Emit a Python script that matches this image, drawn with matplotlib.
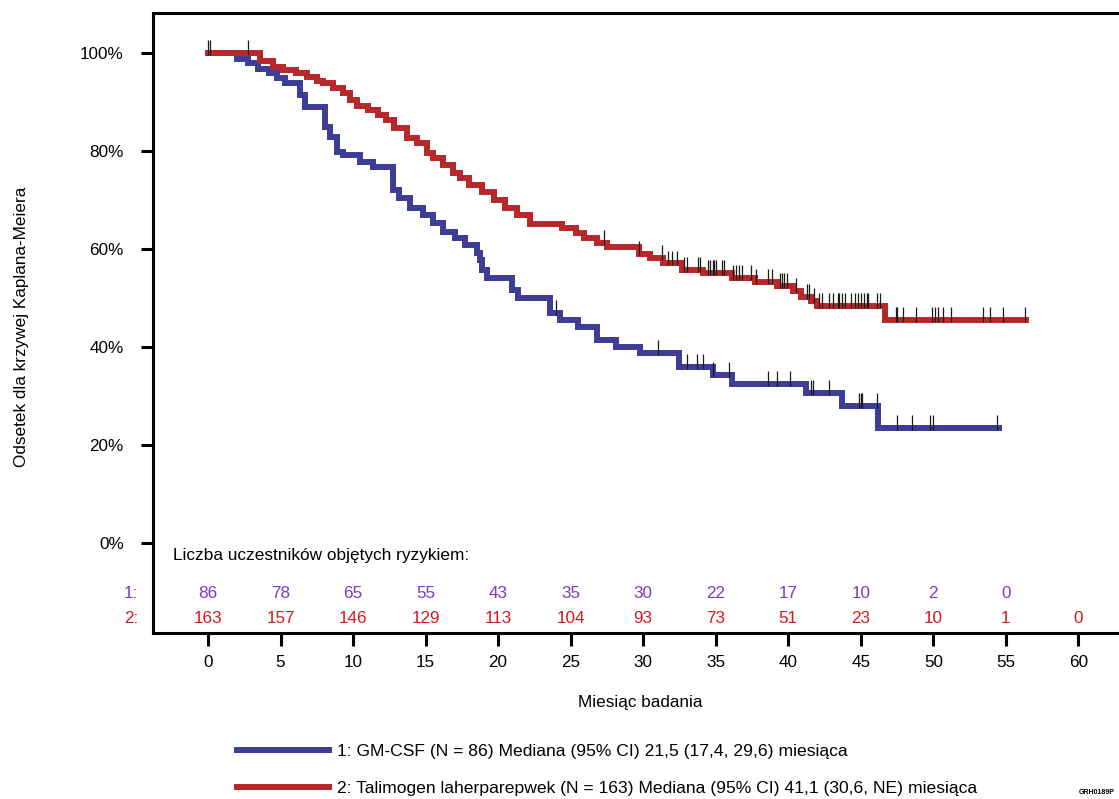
import numpy as np
import matplotlib.pyplot as plt
from matplotlib.lines import Line2D

plt.rcParams['font.family'] = ['Liberation Sans', 'DejaVu Sans']

# GM-CSF (grupa 1): czasy zdarzeń (miesiące) i przeżycie po kroku (%)
t_gm = [0, 2.0, 2.76, 3.45, 4.2, 4.76, 5.3, 6.34, 6.7, 8.07, 8.4, 8.9, 9.3, 10.5, 11.4,
        12.76, 13.2, 13.9, 14.8, 15.5, 16.2, 17.0, 17.7, 18.55, 18.76, 18.9, 19.24,
        20.97, 21.4, 23.6, 24.3, 25.5, 26.8, 28.1, 29.8, 32.5, 34.8, 36.1, 41.2, 43.7, 46.2]
s_gm = [100, 98.8, 98, 96.7, 96, 95, 94, 91.4, 89, 85, 82.8, 79.8, 79.2, 77.8, 76.7,
        72, 70.4, 68.4, 67, 65.3, 63.5, 62.2, 60.8, 59.2, 57.8, 55.7, 54,
        51.6, 50, 47, 45.5, 44, 41.4, 40, 38.8, 36, 34.3, 32.5, 30.6, 28, 23.5]
end_gm = 54.5
cens_gm = [24.0, 31.0, 33.0, 33.7, 34.1, 34.8, 35.9, 38.6, 39.2, 40.1, 41.6, 41.7, 42.8,
           44.9, 45.0, 45.1, 46.1, 47.5, 48.5, 49.8, 50.0, 54.4]

# Talimogen laherparepwek (grupa 2)
t_tl = [0, 3.6, 4.5, 5.2, 6.1, 6.8, 7.5, 7.9, 8.6, 9.3, 9.8, 10.3, 11.0, 11.7, 12.3,
        12.8, 13.7, 14.4, 15.1, 15.5, 16.2, 16.9, 17.4, 18.0, 18.9, 19.7, 20.5, 21.3,
        22.2, 24.4, 25.4, 25.9, 26.8, 27.5, 29.7, 30.5, 31.4, 32.7, 34.1, 36.1, 37.7,
        39.2, 40.3, 40.9, 41.6, 42.0, 46.7]
s_tl = [100, 98.3, 97.1, 96.5, 95.9, 95.1, 94.3, 93.9, 92.9, 91.8, 90.4, 89.2, 88.4, 87.3, 86.3,
        84.7, 82.6, 81.6, 79.6, 78.5, 77.1, 75.5, 74.5, 73.0, 71.6, 70, 68.4, 66.9,
        65.1, 64.3, 63.3, 62.2, 61.2, 60.4, 59.1, 58.2, 57.1, 55.7, 55.1, 54.1, 53.3,
        52.5, 51.4, 50.2, 49.4, 48.4, 45.5]
end_tl = 56.4
cens_tl = [0.0, 0.14, 2.76, 27.3, 29.7, 31.3, 31.7, 32.0, 32.3, 32.8, 33.0, 33.8, 33.9,
           34.5, 34.6, 34.8, 34.9, 35.0, 35.4, 35.6, 36.2, 36.4, 36.6, 36.8, 37.4, 37.8,
           38.6, 38.9, 39.4, 39.6, 39.7, 39.9, 40.5, 41.3, 41.4, 41.8, 42.1, 42.3,
           42.8, 43.1, 43.4, 43.5, 43.7, 43.9, 44.3, 44.6, 44.8, 45.0, 45.2, 45.4, 45.5,
           46.1, 46.3, 47.4, 47.5, 47.9, 48.8, 49.9, 50.1, 50.3, 50.7, 51.2, 53.4, 53.9,
           54.8, 56.3]

risk_times = [0, 5, 10, 15, 20, 25, 30, 35, 40, 45, 50, 55, 60]
risk_gm = [86, 78, 65, 55, 43, 35, 30, 22, 17, 10, 2, 0]
risk_tl = [163, 157, 146, 129, 113, 104, 93, 73, 51, 23, 10, 1, 0]

lab_gm = '1: GM-CSF (N = 86) Mediana (95% CI) 21,5 (17,4, 29,6) miesiąca'
lab_tl = '2: Talimogen laherparepwek (N = 163) Mediana (95% CI) 41,1 (30,6, NE) miesiąca'

c_gm = '#3d3d96'
c_tl = '#b8282a'
c_txt1 = '#7a3cc4'
c_txt2 = '#d7191c'

fs = 12.3

fig = plt.figure(figsize=(11.19, 7.99), dpi=100)
ax = fig.add_axes([153/1119, 166/799, 966/1119, 620/799])


def draw_km(t, s, t_end, cens, color, z):
    tt = np.append(t, t_end)
    ss = np.append(s, s[-1])
    line, = ax.step(tt, ss, where='post', color=color, lw=4.3, solid_joinstyle='miter', zorder=z)
    idx = np.searchsorted(tt, cens, side='right') - 1
    sc = ss[np.clip(idx, 0, len(ss) - 1)]
    ax.vlines(cens, sc - 0.4, sc + 2.6, color='#1a1a1a', lw=0.9, zorder=5)
    return line


l_gm = draw_km(np.array(t_gm), np.array(s_gm), end_gm, cens_gm, c_gm, 3)
l_tl = draw_km(np.array(t_tl), np.array(s_tl), end_tl, cens_tl, c_tl, 4)

ax.set_xlim(-3.79, 62.8)
ax.set_ylim(-18.37, 108.2)
ax.set_xticks(risk_times)
ax.set_yticks([0, 20, 40, 60, 80, 100])
ax.set_yticklabels([f'{v}%' for v in [0, 20, 40, 60, 80, 100]])
ax.tick_params(axis='both', labelsize=fs, width=2.2, length=9, direction='out')
ax.tick_params(axis='y', pad=12)
ax.tick_params(axis='x', pad=7)
for sp in ['left', 'bottom', 'top']:
    ax.spines[sp].set_linewidth(2.2)
ax.spines['right'].set_visible(False)

ax.set_ylabel('Odsetek dla krzywej Kaplana-Meiera', fontsize=fs)
ax.yaxis.set_label_coords(-0.128, 0.4935)
ax.set_xlabel('Miesiąc badania', fontsize=fs)
ax.xaxis.set_label_coords(0.504, -0.100)

# tabela liczby uczestników objętych ryzykiem
ax.text(-2.4, -2.45, 'Liczba uczestników objętych ryzykiem:', fontsize=fs + 0.1,
        ha='left', va='center')
ax.text(-4.8, -10.4, '1:', color=c_txt1, fontsize=fs, ha='right', va='center', clip_on=False)
ax.text(-4.8, -15.5, '2:', color=c_txt2, fontsize=fs, ha='right', va='center', clip_on=False)
for x, n in zip(risk_times, risk_gm):
    ax.text(x, -10.4, str(n), color=c_txt1, fontsize=fs, ha='center', va='center')
for x, n in zip(risk_times, risk_tl):
    ax.text(x, -15.5, str(n), color=c_txt2, fontsize=fs, ha='center', va='center')

h1 = Line2D([], [], color=c_gm, lw=4.3)
h2 = Line2D([], [], color=c_tl, lw=4.3)
fig.legend([h1, h2], [lab_gm, lab_tl], loc='center left', bbox_to_anchor=(237/1119, 1 - 770/799),
           frameon=False, fontsize=12.6, handlelength=5.25, handletextpad=0.45,
           labelspacing=1.25, borderpad=0, borderaxespad=0)

fig.text(1115/1119, 1 - 793/799, 'GRH0189P', fontsize=5, fontweight='bold',
         ha='right', va='center')

fig.savefig('out.png', dpi=100)
